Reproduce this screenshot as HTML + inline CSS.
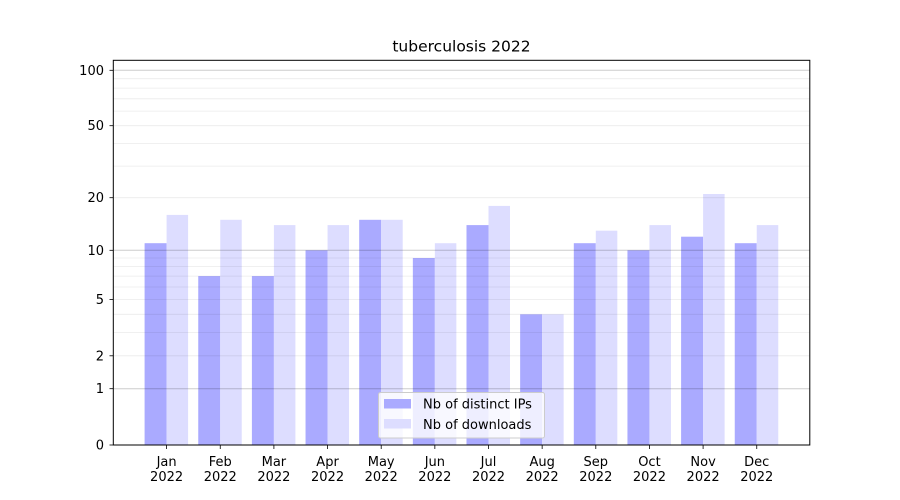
<!DOCTYPE html>
<html><head><meta charset="utf-8"><style>body{margin:0;background:#fff}svg{display:block}text{font-family:"DejaVu Sans","Liberation Sans",sans-serif;font-size:13px;fill:#000}</style></head>
<body>
<svg width="900" height="500" viewBox="0 0 900 500" xmlns="http://www.w3.org/2000/svg">
<rect width="900" height="500" fill="#fff"/>
<g fill="#aaaaff">
<rect x="144.6" y="243.2" width="22" height="201.8"/>
<rect x="198.25" y="276.1" width="22" height="168.9"/>
<rect x="251.9" y="276.1" width="22" height="168.9"/>
<rect x="305.55" y="250.3" width="22" height="194.7"/>
<rect x="359.2" y="219.8" width="22" height="225.2"/>
<rect x="412.85" y="258" width="22" height="187"/>
<rect x="466.5" y="225.1" width="22" height="219.9"/>
<rect x="520.15" y="314.3" width="22" height="130.7"/>
<rect x="573.8" y="243.2" width="22" height="201.8"/>
<rect x="627.45" y="250.3" width="22" height="194.7"/>
<rect x="681.1" y="236.7" width="22" height="208.3"/>
<rect x="734.75" y="243.2" width="22" height="201.8"/>
</g>
<g fill="#ddddff">
<rect x="166.6" y="214.9" width="21.5" height="230.1"/>
<rect x="220.25" y="219.8" width="21.5" height="225.2"/>
<rect x="273.9" y="225.1" width="21.5" height="219.9"/>
<rect x="327.55" y="225.1" width="21.5" height="219.9"/>
<rect x="381.2" y="219.8" width="21.5" height="225.2"/>
<rect x="434.85" y="243.2" width="21.5" height="201.8"/>
<rect x="488.5" y="205.9" width="21.5" height="239.1"/>
<rect x="542.15" y="314.3" width="21.5" height="130.7"/>
<rect x="595.8" y="230.7" width="21.5" height="214.3"/>
<rect x="649.45" y="225.1" width="21.5" height="219.9"/>
<rect x="703.1" y="194" width="21.5" height="251"/>
<rect x="756.75" y="225.1" width="21.5" height="219.9"/>
</g>
<g stroke="#000" stroke-opacity="0.08" stroke-width="0.8">
<line x1="113" x2="810" y1="355.8" y2="355.8"/><line x1="113" x2="810" y1="332.4" y2="332.4"/>
<line x1="113" x2="810" y1="314.3" y2="314.3"/><line x1="113" x2="810" y1="299.5" y2="299.5"/>
<line x1="113" x2="810" y1="287" y2="287"/><line x1="113" x2="810" y1="276.1" y2="276.1"/>
<line x1="113" x2="810" y1="266.6" y2="266.6"/><line x1="113" x2="810" y1="258" y2="258"/>
<line x1="113" x2="810" y1="197.7" y2="197.7"/><line x1="113" x2="810" y1="166.1" y2="166.1"/>
<line x1="113" x2="810" y1="143.4" y2="143.4"/><line x1="113" x2="810" y1="125.7" y2="125.7"/>
<line x1="113" x2="810" y1="111.1" y2="111.1"/><line x1="113" x2="810" y1="98.8" y2="98.8"/>
<line x1="113" x2="810" y1="88.1" y2="88.1"/><line x1="113" x2="810" y1="78.7" y2="78.7"/>
</g>
<g stroke="#000" stroke-opacity="0.2" stroke-width="1">
<line x1="113" x2="810" y1="388.7" y2="388.7"/>
<line x1="113" x2="810" y1="250.3" y2="250.3"/>
<line x1="113" x2="810" y1="70.3" y2="70.3"/>
</g>
<rect x="113.3" y="60.3" width="696.5" height="384.7" fill="none" stroke="#000" stroke-width="1"/>
<g stroke="#000" stroke-width="0.8">
<line x1="109.5" x2="113.3" y1="445" y2="445"/><line x1="109.5" x2="113.3" y1="388.7" y2="388.7"/>
<line x1="109.5" x2="113.3" y1="355.8" y2="355.8"/><line x1="109.5" x2="113.3" y1="299.5" y2="299.5"/>
<line x1="109.5" x2="113.3" y1="250.3" y2="250.3"/><line x1="109.5" x2="113.3" y1="197.7" y2="197.7"/>
<line x1="109.5" x2="113.3" y1="125.7" y2="125.7"/><line x1="109.5" x2="113.3" y1="70.3" y2="70.3"/>
<line x1="166.6" x2="166.6" y1="445" y2="449"/><line x1="220.25" x2="220.25" y1="445" y2="449"/>
<line x1="273.9" x2="273.9" y1="445" y2="449"/><line x1="327.55" x2="327.55" y1="445" y2="449"/>
<line x1="381.2" x2="381.2" y1="445" y2="449"/><line x1="434.85" x2="434.85" y1="445" y2="449"/>
<line x1="488.5" x2="488.5" y1="445" y2="449"/><line x1="542.15" x2="542.15" y1="445" y2="449"/>
<line x1="595.8" x2="595.8" y1="445" y2="449"/><line x1="649.45" x2="649.45" y1="445" y2="449"/>
<line x1="703.1" x2="703.1" y1="445" y2="449"/><line x1="756.75" x2="756.75" y1="445" y2="449"/>
</g>
<g text-anchor="end">
<text x="104" y="449.5">0</text><text x="104" y="393.2">1</text><text x="104" y="360.3">2</text>
<text x="104" y="304">5</text><text x="104" y="254.8">10</text><text x="104" y="202.2">20</text>
<text x="104" y="130.2">50</text><text x="104" y="74.8">100</text>
</g>
<g text-anchor="middle">
<text x="166.6" y="466">Jan</text><text x="166.6" y="481">2022</text>
<text x="220.25" y="466">Feb</text><text x="220.25" y="481">2022</text>
<text x="273.9" y="466">Mar</text><text x="273.9" y="481">2022</text>
<text x="327.55" y="466">Apr</text><text x="327.55" y="481">2022</text>
<text x="381.2" y="466">May</text><text x="381.2" y="481">2022</text>
<text x="434.85" y="466">Jun</text><text x="434.85" y="481">2022</text>
<text x="488.5" y="466">Jul</text><text x="488.5" y="481">2022</text>
<text x="542.15" y="466">Aug</text><text x="542.15" y="481">2022</text>
<text x="595.8" y="466">Sep</text><text x="595.8" y="481">2022</text>
<text x="649.45" y="466">Oct</text><text x="649.45" y="481">2022</text>
<text x="703.1" y="466">Nov</text><text x="703.1" y="481">2022</text>
<text x="756.75" y="466">Dec</text><text x="756.75" y="481">2022</text>
<text x="461.5" y="51.5" style="font-size:15.5px">tuberculosis 2022</text>
</g>
<rect x="378.5" y="392.5" width="166" height="45.5" rx="2" fill="#fff" fill-opacity="0.8" stroke="#ccc" stroke-width="1"/>
<rect x="384" y="399" width="27" height="9.5" fill="#aaaaff"/>
<rect x="384" y="419" width="27" height="9.5" fill="#ddddff"/>
<text x="423" y="408.5">Nb of distinct IPs</text>
<text x="423" y="429">Nb of downloads</text>
</svg>
</body></html>
